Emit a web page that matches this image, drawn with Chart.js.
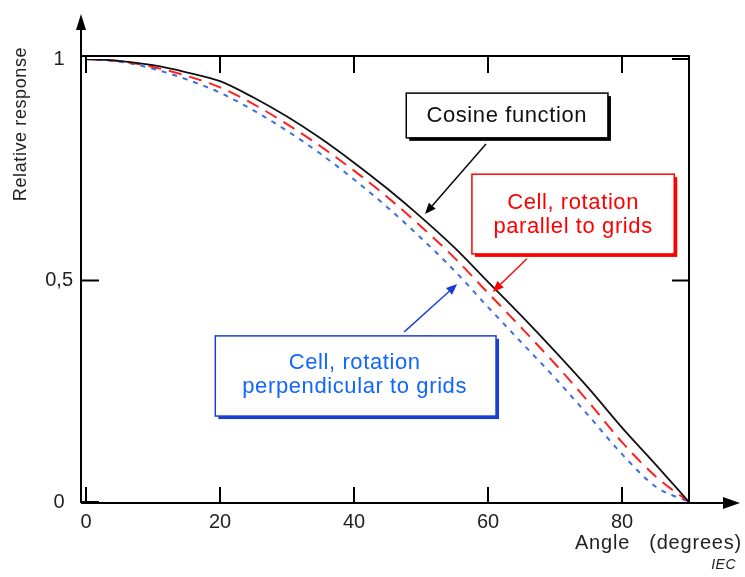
<!DOCTYPE html>
<html>
<head>
<meta charset="utf-8">
<script src="https://cdn.jsdelivr.net/npm/chart.js@4.4.1/dist/chart.umd.min.js"></script>
<style>
  html, body { margin: 0; padding: 0; background: #fff; }
  #wrap { width: 745px; height: 577px; position: relative; }
</style>
</head>
<body>
<div id="wrap"><canvas id="c" width="745" height="577"></canvas></div>
<script>
// ---- Data ----
const angles = [0, 5, 10, 15, 20, 25, 30, 35, 40, 45, 50, 55, 60, 65, 70, 75, 80, 85, 90];
const cosineFunction = [1, 0.996, 0.986, 0.970, 0.950, 0.913, 0.870, 0.821, 0.766, 0.707, 0.643, 0.574, 0.497, 0.42, 0.34, 0.257, 0.168, 0.085, 0];
const cellParallel = [1, 0.995, 0.982, 0.962, 0.936, 0.898, 0.853, 0.803, 0.748, 0.688, 0.622, 0.551, 0.472, 0.393, 0.312, 0.226, 0.135, 0.058, 0];
const cellPerpendicular = [1, 0.994, 0.978, 0.954, 0.924, 0.884, 0.838, 0.786, 0.728, 0.665, 0.596, 0.522, 0.440, 0.360, 0.280, 0.195, 0.108, 0.035, 0];
const xTickValues = [0, 20, 40, 60, 80];
const yTickValues = [0, 0.5, 1];
const yTickLabels = ['0', '0,5', '1'];
const xAxisTitle = 'Angle   (degrees)';
const yAxisTitle = 'Relative response';
const sourceNote = 'IEC';

// annotation boxes in data units: [x1, x2, yTop, yBottom], text lines, arrow from->to
const annotations = [
  { box: [47.8, 77.9, 0.923, 0.822], lines: ['Cosine function'], lineY: [0.871], textX: 62.8,
    arrow: [59.7, 0.808, 50.6, 0.650], color: '#000000', textColor: '#111111', shadow: '#000000' },
  { box: [57.6, 87.8, 0.740, 0.560], lines: ['Cell, rotation', 'parallel to grids'], lineY: [0.675, 0.621], textX: 72.7,
    arrow: [65.8, 0.549, 60.7, 0.474], color: '#ff0000', textColor: '#ff0000', shadow: '#ff0000' },
  { box: [19.3, 61.2, 0.375, 0.194], lines: ['Cell, rotation', 'perpendicular to grids'], lineY: [0.314, 0.260], textX: 40.1,
    arrow: [47.5, 0.384, 55.4, 0.492], color: '#1a3fd0', textColor: '#1166ff', shadow: '#1a3fd0' }
];

const FONT = "'Liberation Sans', Arial, sans-serif";
Chart.defaults.font.family = FONT;
Chart.defaults.font.size = 20;
Chart.defaults.color = '#222';

function arrow(ctx, x1, y1, x2, y2, color, lw, hl, hw) {
  const ang = Math.atan2(y2 - y1, x2 - x1);
  const bx = x2 - hl * Math.cos(ang), by = y2 - hl * Math.sin(ang);
  ctx.save();
  ctx.strokeStyle = color; ctx.fillStyle = color; ctx.lineWidth = lw;
  ctx.beginPath(); ctx.moveTo(x1, y1); ctx.lineTo(bx, by); ctx.stroke();
  ctx.beginPath();
  ctx.moveTo(x2, y2);
  ctx.lineTo(bx + hw * Math.sin(ang), by - hw * Math.cos(ang));
  ctx.lineTo(bx - hw * Math.sin(ang), by + hw * Math.cos(ang));
  ctx.closePath(); ctx.fill();
  ctx.restore();
}

const framePlugin = {
  id: 'frame',
  beforeDatasetsDraw(chart) {
    const { ctx, chartArea: a, scales: { x, y } } = chart;
    const axX = a.left - 5, axY = a.bottom + 1, topY = a.top - 3, rX = a.right;
    ctx.save();
    ctx.strokeStyle = '#000'; ctx.lineWidth = 2;
    ctx.beginPath();
    ctx.moveTo(axX, topY); ctx.lineTo(rX, topY); ctx.lineTo(rX, axY);
    ctx.stroke();
    ctx.beginPath(); ctx.moveTo(axX, axY); ctx.lineTo(axX, 28); ctx.stroke();
    ctx.fillStyle = '#000';
    ctx.beginPath(); ctx.moveTo(axX, 14); ctx.lineTo(axX - 5, 30); ctx.lineTo(axX + 5, 30); ctx.closePath(); ctx.fill();
    ctx.beginPath(); ctx.moveTo(axX, axY); ctx.lineTo(726, axY); ctx.stroke();
    ctx.beginPath(); ctx.moveTo(740, axY); ctx.lineTo(723, axY - 6); ctx.lineTo(723, axY + 6); ctx.closePath(); ctx.fill();
    x.ticks.forEach(t => {
      const px = x.getPixelForValue(t.value);
      ctx.beginPath(); ctx.moveTo(px, axY); ctx.lineTo(px, axY - 16); ctx.stroke();
      ctx.beginPath(); ctx.moveTo(px, topY); ctx.lineTo(px, topY + 17); ctx.stroke();
    });
    y.ticks.forEach(t => {
      const py = y.getPixelForValue(t.value);
      if (t.value > 0) { ctx.beginPath(); ctx.moveTo(rX, py); ctx.lineTo(rX - 17, py); ctx.stroke(); }
      if (t.value < 1) { ctx.beginPath(); ctx.moveTo(axX, Math.min(py, axY - 1)); ctx.lineTo(axX + 18, Math.min(py, axY - 1)); ctx.stroke(); }
    });
    ctx.restore();
  },
  afterDraw(chart) {
    const { ctx, scales: { x, y } } = chart;
    ctx.save();
    ctx.fillStyle = '#222';
    ctx.textAlign = 'right'; ctx.textBaseline = 'middle';
    ctx.font = '20px ' + FONT;
    ctx.letterSpacing = '0.8px';
    ctx.fillText(xAxisTitle, 742, 543);
    ctx.font = 'italic 14px ' + FONT;
    ctx.letterSpacing = '0.5px';
    ctx.fillText(sourceNote, 736, 565);
    ctx.save();
    ctx.translate(21, 124); ctx.rotate(-Math.PI / 2);
    ctx.textAlign = 'center'; ctx.font = '18px ' + FONT;
    ctx.letterSpacing = '0.6px';
    ctx.fillText(yAxisTitle, 0, 0);
    ctx.restore();
    annotations.forEach(an => {
      const x1 = x.getPixelForValue(an.box[0]), x2 = x.getPixelForValue(an.box[1]);
      const y1 = y.getPixelForValue(an.box[2]), y2 = y.getPixelForValue(an.box[3]);
      ctx.fillStyle = an.shadow;
      ctx.fillRect(x1 + 3, y1 + 3, x2 - x1, y2 - y1);
      ctx.fillStyle = '#fff';
      ctx.fillRect(x1, y1, x2 - x1, y2 - y1);
      ctx.strokeStyle = an.color; ctx.lineWidth = 1.5;
      ctx.strokeRect(x1, y1, x2 - x1, y2 - y1);
      ctx.fillStyle = an.textColor;
      ctx.font = '22px ' + FONT;
      ctx.letterSpacing = '0.6px';
      ctx.textAlign = 'center'; ctx.textBaseline = 'middle';
      an.lines.forEach((ln, i) => ctx.fillText(ln, x.getPixelForValue(an.textX), y.getPixelForValue(an.lineY[i])));
      arrow(ctx, x.getPixelForValue(an.arrow[0]), y.getPixelForValue(an.arrow[1]),
            x.getPixelForValue(an.arrow[2]), y.getPixelForValue(an.arrow[3]), an.color, 1.4, 11, 4.5);
    });
    ctx.restore();
  }
};

new Chart(document.getElementById('c'), {
  type: 'line',
  data: {
    labels: angles,
    datasets: [
      { label: 'Cosine function', data: angles.map((a, i) => ({ x: a, y: cosineFunction[i] })),
        borderColor: '#111', borderWidth: 1.8, pointRadius: 0, cubicInterpolationMode: 'monotone', order: 1 },
      { label: 'Cell, rotation parallel to grids', data: angles.map((a, i) => ({ x: a, y: cellParallel[i] })),
        borderColor: '#ff2020', borderWidth: 2, borderDash: [13, 8], pointRadius: 0, cubicInterpolationMode: 'monotone', order: 2 },
      { label: 'Cell, rotation perpendicular to grids', data: angles.map((a, i) => ({ x: a, y: cellPerpendicular[i] })),
        borderColor: '#3a6fe0', borderWidth: 2, borderDash: [5, 6], pointRadius: 0, cubicInterpolationMode: 'monotone', order: 3 }
    ]
  },
  options: {
    responsive: false,
    animation: false,
    events: [],
    layout: { padding: { left: 0, right: 56, top: 59, bottom: 0 } },
    plugins: { legend: { display: false }, tooltip: { enabled: false } },
    scales: {
      x: {
        type: 'linear', min: 0, max: 90,
        grid: { display: false, drawTicks: false }, border: { display: false },
        afterBuildTicks: s => { s.ticks = xTickValues.map(v => ({ value: v })); },
        afterFit: s => { s.height = 75; },
        ticks: { padding: 8, color: '#222', font: { size: 20 }, maxRotation: 0 }
      },
      y: {
        min: 0, max: 1,
        grid: { display: false, drawTicks: false }, border: { display: false },
        afterBuildTicks: s => { s.ticks = yTickValues.map(v => ({ value: v })); },
        afterFit: s => { s.width = 86; },
        ticks: { padding: 13, crossAlign: 'center', color: '#222', font: { size: 20 },
                 callback: v => yTickLabels[yTickValues.indexOf(v)] }
      }
    }
  },
  plugins: [framePlugin]
});
</script>
</body>
</html>
